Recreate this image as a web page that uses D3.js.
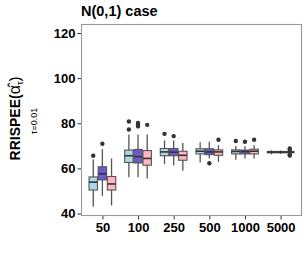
<!DOCTYPE html>
<html><head><meta charset="utf-8">
<script src="https://cdn.jsdelivr.net/npm/d3@7"></script>
<style>body{margin:0;background:#fff}svg{display:block}text{font-family:"Liberation Sans",Arial,sans-serif}</style>
</head><body><svg id="c" width="307" height="256"></svg>
<script>
const categories = ["50","100","250","500","1000","5000"];
const seriesNames = ["A","B","C"];
const seriesColors = ["#ADD8E6","#6A5ACD","#FFB6C1"];
const yTicks = [40,60,80,100,120];
// stats per category: [lowerWhisker, q1, median, q3, upperWhisker]
const statsA = [[43,50.4,53.9,56.2,63.9],[56.1,62.6,65.6,68.1,75],[62,65.6,67.3,68.8,72.4],[62.6,66.4,67.6,68.7,71.6],[63.8,66.4,67.5,68.2,69.9],[66.2,66.9,67.2,67.5,68.0]];
const statsB = [[47.8,54.9,57.6,60.7,68.5],[56.1,62.4,65.2,68.4,75],[61.4,65.6,67.2,68.8,72.4],[64.4,66.1,67.3,68.7,71.8],[64.4,66.4,67.5,68.1,69.8],[66.4,66.9,67.2,67.5,67.9]];
const statsC = [[43.6,50.4,53.1,56.4,64.4],[55.5,61.4,64.4,67.9,75],[59,63.6,65.8,67.6,71.3],[62.9,65.8,67.3,68.2,70.3],[64.4,66.4,67.6,68.5,70.3],[66.5,66.9,67.2,67.5,67.9]];
const outA = [[65.6],[77.2,80.8],[75.3],[],[72.1],[]];
const outB = [[70.9],[78.6,79.5,80.1],[74.3],[62.3],[71.8],[]];
const outC = [[],[79.3],[],[72.7],[72.7],[68.8,68.2,66.0,65.7]];

const allStats=[statsA,statsB,statsC], allOut=[outA,outB,outC];
const svg=d3.select("#c");
const L=81,R=302,T=24,B=216;
const x=d3.scalePoint().domain(categories).range([L,R]).padding(0.6);
const step=x.step();
const xs=d3.scaleBand().domain(seriesNames).range([-0.375*step,0.375*step]).paddingInner(0.08);
const y=d3.scaleLinear().domain([40,120]).range([213.5,33]);

// axes
const ya=svg.append("g").attr("transform",`translate(${L},0)`).call(d3.axisLeft(y).tickValues(yTicks).tickSize(3.5).tickPadding(2));
const xa=svg.append("g").attr("transform",`translate(0,${B})`).call(d3.axisBottom(x).tickSize(3.5).tickPadding(3));
[ya,xa].forEach(a=>{a.select(".domain").remove();a.selectAll(".tick line").attr("stroke","#333").attr("stroke-width",1);
 a.selectAll("text").attr("fill","#000").attr("font-weight","bold").attr("font-size",13);});

svg.append("rect").attr("x",L+0.5).attr("y",T+0.5).attr("width",R-L-1).attr("height",B-T-1).attr("fill","none").attr("stroke","#999").attr("stroke-width",1.1);

seriesNames.forEach((s,si)=>{
  const g=svg.append("g");
  categories.forEach((c,ci)=>{
    const st=allStats[si][ci];
    const cx=x(c)+xs(s)+xs.bandwidth()/2, w=xs.bandwidth();
    g.append("line").attr("x1",cx).attr("x2",cx).attr("y1",y(st[0])).attr("y2",y(st[4])).attr("stroke","#555").attr("stroke-width",1.3);
    g.append("rect").attr("x",cx-w/2).attr("width",w).attr("y",y(st[3])).attr("height",y(st[1])-y(st[3]))
      .attr("fill",seriesColors[si]).attr("stroke","#555").attr("stroke-width",1.1);
    g.append("line").attr("x1",cx-w/2).attr("x2",cx+w/2).attr("y1",y(st[2])).attr("y2",y(st[2])).attr("stroke","#333").attr("stroke-width",1.6);
    allOut[si][ci].forEach(o=>g.append("circle").attr("cx",cx).attr("cy",y(o)).attr("r",2.2).attr("fill","#333"));
  });
});

svg.append("text").attr("x",L).attr("y",15.5).attr("font-weight","bold").attr("font-size",14.5).attr("fill","#000").text("N(0,1) case");

const yl=svg.append("text").attr("transform","translate(20,118.5) rotate(-90)").attr("text-anchor","middle").attr("font-weight","bold").attr("font-size",14).attr("fill","#000");
yl.append("tspan").text("RRISPEE(");
yl.append("tspan").attr("font-weight","normal").attr("font-size",16).text("α\u0302");
yl.append("tspan").attr("font-size",9).attr("font-weight","normal").attr("dy",3).text("τ");
yl.append("tspan").attr("dy",-3).attr("font-weight","normal").attr("font-size",15).text(")");
svg.append("text").attr("transform","translate(37,121) rotate(-90)").attr("text-anchor","middle").attr("font-size",9).attr("fill","#000").text("τ=0.01");
</script></body></html>
